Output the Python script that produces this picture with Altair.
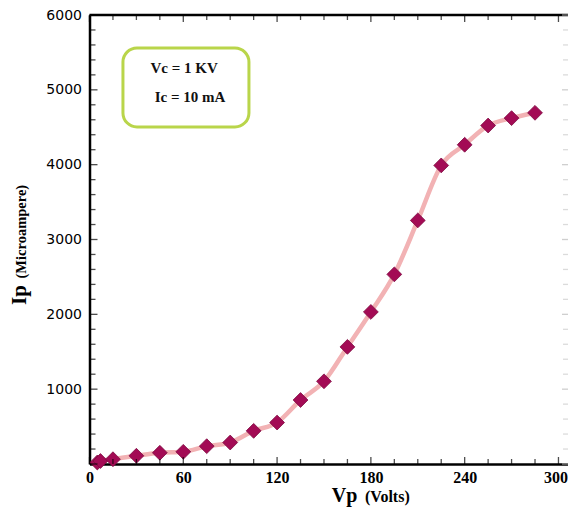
import altair as alt
import pandas as pd

# ---- data ----
vp = [5, 7, 15, 30, 45, 60, 75, 90, 105, 120, 135, 150, 165, 180, 195,
      210, 225, 240, 255, 270, 285]
ip = [20, 40, 64, 110, 150, 163, 238, 287, 443, 554, 855, 1105, 1565, 2032,
      2534, 3255, 3990, 4266, 4523, 4622, 4693]

x_label_values = [0, 60, 120, 180, 240, 300]
y_label_values = [1000, 2000, 3000, 4000, 5000, 6000]
x_minor_ticks = [v for v in range(0, 307, 15) if v % 60 != 0]
x_major_ticks = [v for v in range(0, 307, 60)]
y_minor_ticks = [v for v in range(0, 6001, 200) if v % 1000 != 0]
y_major_ticks = [v for v in range(0, 6001, 1000)]

box_text = ["Vc = 1 KV", "Ic = 10 mA"]
box_text_x = [60.5, 64.3]
box_text_y = [5227, 4839]
box_x = [21.4, 102]
box_y = [4505, 5559]

W, H = 478.5, 449
XDOM = [0, 306.1]
YDOM = [0, 6000]

df = pd.DataFrame({"Vp": vp, "Ip": ip})

xs = alt.Scale(domain=XDOM, nice=False, zero=False)
ys = alt.Scale(domain=YDOM, nice=False, zero=False)

xaxis = alt.Axis(values=x_label_values, ticks=False, grid=False, domain=True,
                 domainColor="black", domainWidth=2.5, labelFont="Liberation Serif",
                 labelFontWeight="bold", labelFontSize=16, labelColor="black",
                 labelPadding=5, title=None, labelFlush=False, format="d",
                 labelOffset={"condition": {"test": "datum.value >= 300", "value": -3},
                              "value": 0})
yaxis = alt.Axis(values=y_label_values, ticks=False, grid=False, domain=True,
                 domainColor="black", domainWidth=2.5, labelFont="DejaVu Sans",
                 labelFontSize=14, labelColor="black", labelPadding=8,
                 title=None, labelFlush=False, format="d")

line = alt.Chart(df).mark_line(color="#f2b2b4", strokeWidth=4.5,
                               interpolate="monotone").encode(
    x=alt.X("Vp:Q", scale=xs, axis=xaxis),
    y=alt.Y("Ip:Q", scale=ys, axis=yaxis),
)
points = alt.Chart(df).mark_point(shape="diamond", filled=True, size=220,
                                  color="#a30b55", stroke="#7d0a40",
                                  strokeWidth=0.8, opacity=1).encode(
    x=alt.X("Vp:Q", scale=xs),
    y=alt.Y("Ip:Q", scale=ys),
)


def xticks(vals, length, top):
    d = pd.DataFrame({"v": vals})
    return alt.Chart(d).mark_tick(color="black", thickness=1.3, size=length,
                                  orient="vertical").encode(
        x=alt.X("v:Q", scale=xs),
        y=alt.value(length / 2 if top else H - length / 2),
    )


def yticks(vals, length, right, color="black"):
    d = pd.DataFrame({"v": vals})
    return alt.Chart(d).mark_tick(color=color, thickness=1.3, size=length,
                                  orient="horizontal").encode(
        y=alt.Y("v:Q", scale=ys),
        x=alt.value(W - length / 2 if right else length / 2),
    )


ticks = [
    xticks(x_major_ticks, 7, False), xticks(x_minor_ticks, 5, False),
    xticks(x_major_ticks, 7, True), xticks(x_minor_ticks, 5, True),
    yticks(y_major_ticks, 8, False), yticks(y_minor_ticks, 6, False),
    yticks(y_major_ticks, 6, True, "#bbbbbb"), yticks(y_minor_ticks, 5, True, "#cccccc"),
]

top_line = alt.Chart(pd.DataFrame({"a": [0]})).mark_rule(
    color="black", strokeWidth=2.5).encode(
    x=alt.value(0), x2=alt.value(W), y=alt.value(0))

box_df = pd.DataFrame({"x": [box_x[0]], "x2": [box_x[1]],
                       "y": [box_y[0]], "y2": [box_y[1]]})
box = alt.Chart(box_df).mark_rect(fill="white", stroke="#b9d54a",
                                  strokeWidth=3, cornerRadius=14).encode(
    x=alt.X("x:Q", scale=xs), x2="x2:Q",
    y=alt.Y("y:Q", scale=ys), y2="y2:Q",
)
bt_df = pd.DataFrame({"t": box_text, "x": box_text_x, "y": box_text_y})
box_txt = alt.Chart(bt_df).mark_text(font="Liberation Serif", fontWeight="bold",
                                     fontSize=15, color="#111111",
                                     baseline="alphabetic", align="center").encode(
    x=alt.X("x:Q", scale=xs), y=alt.Y("y:Q", scale=ys), text="t:N")


def label(text, x, y, size, angle=0):
    d = pd.DataFrame({"t": [text]})
    return alt.Chart(d).mark_text(font="Liberation Serif", fontWeight="bold",
                                  fontSize=size, color="black", align="left",
                                  baseline="alphabetic", angle=angle).encode(
        x=alt.value(x), y=alt.value(y), text="t:N")


titles = [
    label("Vp", 242.2, 487, 20),
    label("(Volts)", 275.5, 486.5, 16),
    label("Ip", -63.5, 290, 21, 270),
    label("(Microampere)", -63.5, 263.5, 14.5, 270),
]

chart = alt.layer(box, box_txt, line, points, top_line, *ticks, *titles).properties(
    width=W, height=H,
    autosize=alt.AutoSizeParams(type="none"),
    padding={"left": 81.5, "top": 7, "right": 0, "bottom": 43},
).configure_view(stroke=None).configure(background="white")

chart.save("out.html", embed_options={"renderer": "svg", "actions": False})
